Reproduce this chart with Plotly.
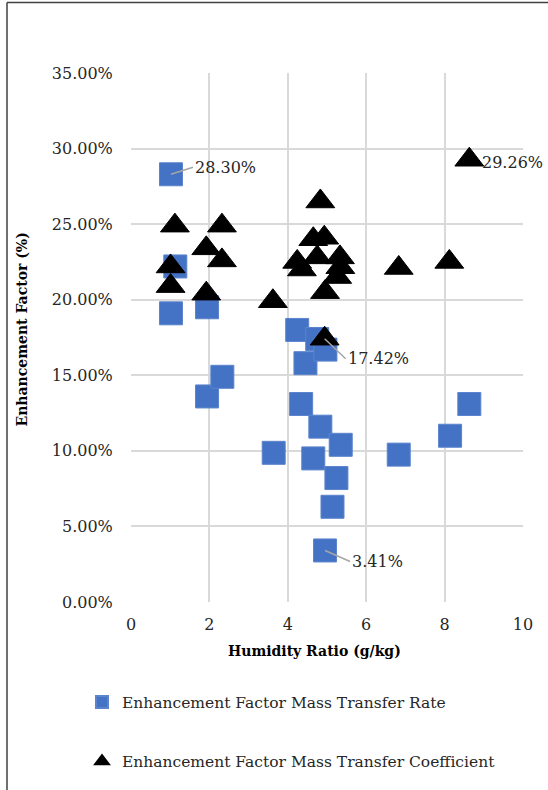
import plotly.graph_objects as go

# Humidity ratio (g/kg) and enhancement factor values
rate_x = [1.02, 1.13, 1.02, 1.94, 1.94, 2.33, 3.64, 4.24, 4.34, 4.45, 4.65,
          4.75, 4.83, 4.96, 4.95, 5.14, 5.24, 5.35, 6.83, 8.14, 8.63]
rate_y = [0.2830, 0.222, 0.191, 0.195, 0.136, 0.149, 0.0987, 0.180, 0.131, 0.158, 0.095,
          0.174, 0.116, 0.167, 0.0341, 0.063, 0.082, 0.104, 0.0975, 0.110, 0.131]

coef_x = [1.12, 2.32, 1.92, 2.32, 1.01, 1.01, 1.92, 3.62, 4.83, 4.65, 4.93,
          4.24, 4.75, 4.36, 5.33, 5.34, 5.26, 4.95, 4.94, 6.83, 8.12, 8.63]
coef_y = [0.249, 0.249, 0.234, 0.226, 0.222, 0.209, 0.204, 0.199, 0.265, 0.240, 0.241,
          0.225, 0.228, 0.220, 0.228, 0.2215, 0.215, 0.205, 0.1742, 0.221, 0.225, 0.2926]

rate_name = "Enhancement Factor Mass Transfer Rate"
coef_name = "Enhancement Factor Mass Transfer Coefficient"
x_title = "Humidity Ratio (g/kg)"
y_title = "Enhancement Factor (%)"

# labelled points: (index, ax, ay, arrow)
rate_labels = [(0, 22, -7, True), (14, 25, 11, True)]
coef_labels = [(18, 21, 20, True), (21, 11, -3, False)]

FONT = "DejaVu Serif, serif"
FS = 16
W, H = 548, 790
L, R, T, B = 131, 25, 73, 185
pw, ph = W - L - R, H - T - B

fig = go.Figure()
fig.add_trace(go.Scatter(
    x=rate_x, y=rate_y, mode="markers", name=rate_name, legendgroup="a",
    marker=dict(symbol="square", size=23, color="#4472C4",
                line=dict(color="#5B84CC", width=1)),
))
fig.add_trace(go.Scatter(
    x=coef_x, y=coef_y, mode="markers", name=coef_name, legendgroup="b",
    marker=dict(symbol="triangle-up", size=25, color="#000000",
                line=dict(color="#000000", width=1)),
))

annotations = []
for xs, ys, labels in ((rate_x, rate_y, rate_labels), (coef_x, coef_y, coef_labels)):
    for i, ax, ay, arrow in labels:
        a = dict(x=xs[i], y=ys[i], xref="x", yref="y", text=f"{ys[i]*100:.2f}%",
                 font=dict(family=FONT, size=FS, color="#262626"),
                 xanchor="left", yanchor="middle")
        if arrow:
            a.update(showarrow=True, ax=ax, ay=ay, axref="pixel", ayref="pixel",
                     arrowhead=0, arrowwidth=1.5, arrowcolor="#A6A6A6", standoff=0)
        else:
            a.update(showarrow=False, xshift=ax, yshift=ay)
        annotations.append(a)

def px_x(p):
    return (p - L) / pw

def px_y(p):
    return (H - B - p) / ph

annotations.append(dict(x=px_x(314), y=px_y(654), xref="paper", yref="paper",
                        text=f"<b>{x_title}</b>", showarrow=False,
                        font=dict(family=FONT, size=14, color="#000000"),
                        xanchor="center", yanchor="middle"))
annotations.append(dict(x=px_x(22), y=px_y(331), xref="paper", yref="paper",
                        text=f"<b>{y_title}</b>", showarrow=False, textangle=-90,
                        font=dict(family=FONT, size=14, color="#000000"),
                        xanchor="center", yanchor="middle"))

shapes = [
    dict(type="line", xref="paper", yref="paper", x0=px_x(7), x1=px_x(7),
         y0=px_y(2), y1=px_y(H + 20), line=dict(color="#404040", width=1.5)),
    dict(type="line", xref="paper", yref="paper", x0=px_x(7), x1=px_x(W + 20),
         y0=px_y(2), y1=px_y(2), line=dict(color="#404040", width=1.5)),
]

fig.update_layout(
    width=W, height=H,
    margin=dict(l=L, r=R, t=T, b=B, pad=0),
    paper_bgcolor="white", plot_bgcolor="white",
    font=dict(family=FONT, size=FS, color="#262626"),
    xaxis=dict(range=[0, 10], dtick=2, tick0=0, showgrid=True, gridcolor="#D9D9D9",
               gridwidth=1.5, zeroline=False, showline=False, ticks="outside",
               ticklen=8, tickcolor="rgba(0,0,0,0)", tickfont=dict(family=FONT, size=FS)),
    yaxis=dict(range=[0, 0.35], dtick=0.05, tick0=0, tickformat=".2%", showgrid=True,
               gridcolor="#D9D9D9", gridwidth=1.5, zeroline=False, showline=False,
               ticks="outside", ticklen=14, tickcolor="rgba(0,0,0,0)",
               tickfont=dict(family=FONT, size=FS)),
    showlegend=True,
    legend=dict(x=px_x(82), y=px_y(689), xanchor="left", yanchor="top",
                orientation="v", traceorder="grouped", tracegroupgap=36,
                itemsizing="constant", font=dict(family=FONT, size=15.5, color="#262626"),
                bgcolor="rgba(0,0,0,0)"),
    annotations=annotations,
    shapes=shapes,
)

fig.write_html("out.html", config={"displayModeBar": False},
               post_script="document.body.style.margin='0';document.body.style.overflow='hidden';")
